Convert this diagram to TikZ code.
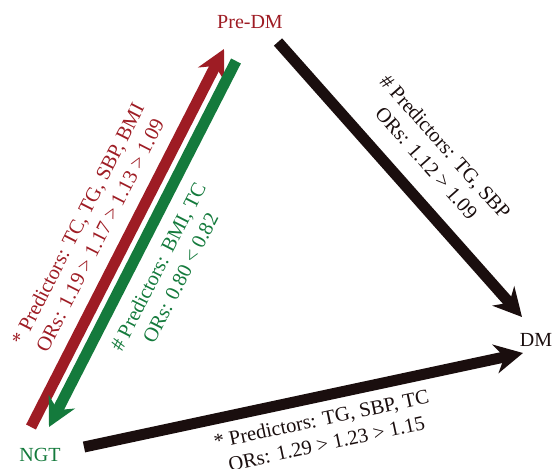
\documentclass[tikz,border=0pt]{standalone}
\usepackage{fontspec}
\setmainfont{Liberation Serif}
\usepackage{xcolor}
\usetikzlibrary{arrows.meta}

\definecolor{dmred}{RGB}{158,28,36}
\definecolor{dmgreen}{RGB}{20,122,60}
\definecolor{dmblack}{RGB}{26,14,14}

\begin{document}
\begin{tikzpicture}[
        x=1pt, y=-1pt,
        >={Stealth[length=28pt, width=29pt, inset=9pt]},
        % Styles
        statelab/.style={font=\fontsize{20}{24}\selectfont, inner sep=0pt},
        bigarrow/.style={->, line width=11pt},
        arrowlab/.style={font=\fontsize{20.5}{25}\selectfont, align=center,
                inner sep=0pt, sloped},
        ]
        \useasboundingbox (0,0) rectangle (553,468);

        % === STATES ===
        \node[statelab, text=dmred] (predm) at (250,22) {Pre-DM};
        \node[statelab, text=dmgreen] (ngt) at (40,455) {NGT};
        \node[statelab, text=dmblack] (dm) at (536,340) {DM};

        % arrow ends
        \coordinate (ngtout) at (31,427);
        \coordinate (predmin) at (224,49);
        \coordinate (predmout) at (236,61);
        \coordinate (ngtin) at (49,427);
        \coordinate (predmdm) at (278,42);
        \coordinate (dmtop) at (522,317);
        \coordinate (ngtdm) at (84,447);
        \coordinate (dmbot) at (523,353);

        % === NGT <-> Pre-DM ===
        \draw[bigarrow, dmred] (ngtout) -- (predmin)
                node[arrowlab, text=dmred, pos=0.476, above=13pt]
                {* Predictors: TC, TG, SBP, BMI\\ORs: 1.19 > 1.17 > 1.13 > 1.09};
        \draw[bigarrow, dmgreen] (predmout) -- (ngtin)
                node[arrowlab, text=dmgreen, pos=0.532, below=11.5pt]
                {\# Predictors: BMI, TC\\ORs: 0.80 < 0.82};

        % === to DM ===
        \draw[bigarrow, dmblack] (predmdm) -- (dmtop)
                node[arrowlab, text=dmblack, pos=0.515, above=18pt]
                {\# Predictors: TG, SBP\\ORs: 1.12 > 1.09};
        \draw[bigarrow, dmblack] (ngtdm) -- (dmbot)
                node[arrowlab, text=dmblack, pos=0.53, below=9.5pt]
                {* Predictors: TG, SBP, TC\\ORs: 1.29 > 1.23 > 1.15};

    \end{tikzpicture}
\end{document}
